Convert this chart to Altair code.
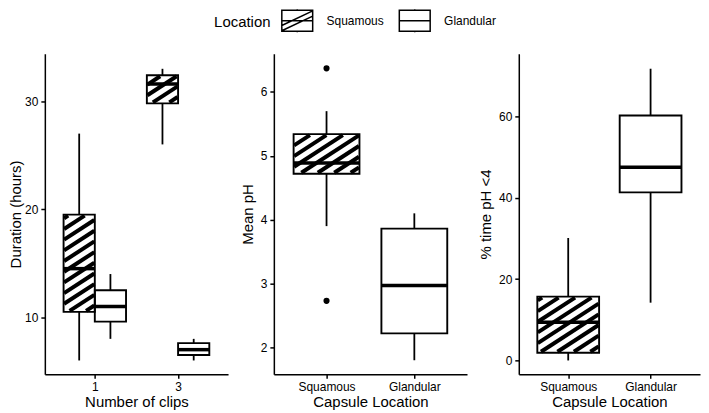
import json
import math
import altair as alt
import pandas as pd

LOCATIONS = ["Squamous", "Glandular"]

# ---- Panel 1: Duration (hours) by number of clips ----
p1_levels = ["1", "3"]
p1_groups = ["1", "1", "3", "3"]
p1_locs = ["Squamous", "Glandular", "Squamous", "Glandular"]
p1_lo = [6.0, 8.0, 26.0, 6.0]
p1_q1 = [10.5, 9.6, 29.8, 6.5]
p1_med = [14.5, 11.0, 31.6, 7.0]
p1_q3 = [19.5, 12.5, 32.4, 7.6]
p1_hi = [27.0, 14.0, 33.0, 8.0]
p1_ticks = [10, 20, 30]

# ---- Panel 2: Mean pH by capsule location ----
p2_levels = ["Squamous", "Glandular"]
p2_groups = ["Squamous", "Glandular"]
p2_locs = ["Squamous", "Glandular"]
p2_lo = [3.9, 1.8]
p2_q1 = [4.72, 2.22]
p2_med = [4.89, 2.97]
p2_q3 = [5.34, 3.86]
p2_hi = [5.7, 4.1]
p2_out_groups = ["Squamous", "Squamous"]
p2_out_vals = [6.37, 2.73]
p2_ticks = [2, 3, 4, 5, 6]

# ---- Panel 3: % time pH < 4 by capsule location ----
p3_levels = ["Squamous", "Glandular"]
p3_groups = ["Squamous", "Glandular"]
p3_locs = ["Squamous", "Glandular"]
p3_lo = [0.0, 14.2]
p3_q1 = [1.9, 41.3]
p3_med = [9.4, 47.5]
p3_q3 = [15.7, 60.2]
p3_hi = [30.1, 71.7]
p3_ticks = [0, 20, 40, 60]

FONT = "Liberation Sans"
XMIN, XMAX = 0.4, 2.6
ANGLE = math.radians(33)
SPACING = 9.0
STRIPE_W = 4

# legend key: 31 x 21 px box drawn with a symbol of nominal size 21 px
SYM_BOX = "M-1.476,-1H1.476V1H-1.476Z M-1.476,0H1.476 M0,-1V-1.1 M0,1V1.1"
SYM_SQ = SYM_BOX + " M-1.476,0.95L1.476,-0.45 M-1.476,0.45L1.476,-0.95"
SYM_GL = SYM_BOX


def hatch_rows(box, width, height, ydom):
    sx = width / (XMAX - XMIN)
    sy = height / (ydom[1] - ydom[0])
    dx, dy = math.cos(ANGLE), math.sin(ANGLE)
    nx, ny = -dy, dx
    rows = []
    for _, r in box.iterrows():
        if r["loc"] != LOCATIONS[0]:
            continue
        X0 = (r["left"] - XMIN) * sx + 0.5
        X1 = (r["right"] - XMIN) * sx - 0.5
        Y0 = (r["q1"] - ydom[0]) * sy + 1.0
        Y1 = (r["q3"] - ydom[0]) * sy - 1.0
        cs = [nx * X + ny * Y for X in (X0, X1) for Y in (Y0, Y1)]
        c = min(cs) + SPACING / 2
        while c < max(cs):
            t_lo = max((X0 - c * nx) / dx, (Y0 - c * ny) / dy)
            t_hi = min((X1 - c * nx) / dx, (Y1 - c * ny) / dy)
            if t_hi > t_lo:
                ax, ay = c * nx + t_lo * dx, c * ny + t_lo * dy
                bx, by = c * nx + t_hi * dx, c * ny + t_hi * dy
                rows.append(dict(hx=ax / sx + XMIN, hx2=bx / sx + XMIN,
                                 hy=ay / sy + ydom[0], hy2=by / sy + ydom[0]))
            c += SPACING
    return pd.DataFrame(rows)


def panel(levels, groups, locs, lo, q1, med, q3, hi, dodge, ydom, yticks,
          ytitle, xtitle, width, height, title_pad,
          out_groups=None, out_vals=None, legend=False):
    half = 0.1875 if dodge else 0.375
    rows = []
    for g, l, a, b, m, c, d in zip(groups, locs, lo, q1, med, q3, hi):
        pos = levels.index(g) + 1
        if dodge:
            pos += -half if l == LOCATIONS[0] else half
        rows.append(dict(group=g, loc=l, pos=pos, left=pos - half,
                         right=pos + half, lo=a, q1=b, med=m, q3=c, hi=d))
    box = pd.DataFrame(rows)
    xs = alt.Scale(domain=[XMIN, XMAX], nice=False, zero=False)
    ys = alt.Scale(domain=ydom, nice=False, zero=False)
    xaxis = alt.Axis(values=[i + 1 for i in range(len(levels))],
                     labelExpr=f"{json.dumps(levels)}[datum.value - 1]",
                     title=xtitle, tickSize=4, labelPadding=3, titlePadding=2)
    yaxis = alt.Axis(values=yticks, title=ytitle, tickSize=4, labelPadding=3,
                     titlePadding=title_pad)
    base = alt.Chart(box)
    layers = [
        base.mark_rule(color="black", strokeWidth=1.8).encode(
            x=alt.X("pos:Q", scale=xs, axis=xaxis),
            y=alt.Y("lo:Q", scale=ys, axis=yaxis), y2="q1:Q"),
        base.mark_rule(color="black", strokeWidth=1.8).encode(
            x=alt.X("pos:Q", scale=xs, axis=xaxis),
            y=alt.Y("q3:Q", scale=ys, axis=yaxis), y2="hi:Q"),
        base.mark_rect(fill="white").encode(
            x=alt.X("left:Q", scale=xs, axis=xaxis), x2="right:Q",
            y=alt.Y("q1:Q", scale=ys, axis=yaxis), y2="q3:Q"),
        alt.Chart(hatch_rows(box, width, height, ydom)).mark_rule(
            color="black", strokeWidth=STRIPE_W, strokeCap="butt").encode(
            x=alt.X("hx:Q", scale=xs, axis=xaxis), x2="hx2:Q",
            y=alt.Y("hy:Q", scale=ys, axis=yaxis), y2="hy2:Q"),
        base.mark_rect(fillOpacity=0, stroke="black", strokeWidth=1.9).encode(
            x=alt.X("left:Q", scale=xs, axis=xaxis), x2="right:Q",
            y=alt.Y("q1:Q", scale=ys, axis=yaxis), y2="q3:Q"),
        base.mark_rule(color="black", strokeWidth=3.5).encode(
            x=alt.X("left:Q", scale=xs, axis=xaxis), x2="right:Q",
            y=alt.Y("med:Q", scale=ys, axis=yaxis)),
    ]
    if out_vals:
        out = pd.DataFrame({"pos": [levels.index(g) + 1 for g in out_groups],
                            "val": out_vals})
        layers.append(alt.Chart(out).mark_circle(color="black", size=38, opacity=1).encode(
            x=alt.X("pos:Q", scale=xs, axis=xaxis),
            y=alt.Y("val:Q", scale=ys, axis=yaxis)))
    if legend:
        leg = pd.DataFrame({"loc": LOCATIONS, "pos": [1, 1],
                            "val": [ydom[0] - 1000, ydom[0] - 1000]})
        layers.append(alt.Chart(leg).mark_point(
            clip=True, filled=False, color="black", size=441, strokeWidth=1.5,
            opacity=1).encode(
            x=alt.X("pos:Q", scale=xs, axis=xaxis),
            y=alt.Y("val:Q", scale=ys, axis=yaxis),
            shape=alt.Shape("loc:N",
                            scale=alt.Scale(domain=LOCATIONS, range=[SYM_SQ, SYM_GL]),
                            legend=alt.Legend(
                                title="Location", orient="none", legendX=170,
                                legendY=-45, direction="horizontal",
                                titleOrient="left", titleAnchor="middle",
                                titleBaseline="middle", titlePadding=15,
                                titleFont=FONT, titleFontSize=15,
                                titleFontWeight="normal", titleColor="black",
                                labelFont=FONT, labelFontSize=12, labelColor="black",
                                labelOffset=18, columnPadding=12, padding=0,
                                symbolSize=441, symbolStrokeWidth=1.5,
                                symbolStrokeColor="black", symbolFillColor="white",
                                symbolOpacity=1))))
    return alt.layer(*layers).properties(width=width, height=height)


H = 322
c1 = panel(p1_levels, p1_groups, p1_locs, p1_lo, p1_q1, p1_med, p1_q3, p1_hi,
           True, [4.72, 34.4], p1_ticks, "Duration (hours)", "Number of clips",
           184, H, 1, legend=True)
c2 = panel(p2_levels, p2_groups, p2_locs, p2_lo, p2_q1, p2_med, p2_q3, p2_hi,
           False, [1.58, 6.6], p2_ticks, "Mean pH", "Capsule Location",
           194, H, 5, out_groups=p2_out_groups, out_vals=p2_out_vals)
c3 = panel(p3_levels, p3_groups, p3_locs, p3_lo, p3_q1, p3_med, p3_q3, p3_hi,
           False, [-3.4, 75.4], p3_ticks, "% time pH <4", "Capsule Location",
           182, H, 5)

chart = (
    alt.hconcat(c1, c2, c3, spacing=10)
    .resolve_legend(shape="shared")
    .properties(padding=0)
    .configure_view(stroke="transparent")
    .configure_axis(
        grid=False, domainColor="black", domainWidth=1.5, tickColor="black",
        tickWidth=1.5, labelFont=FONT, labelFontSize=12, labelColor="black",
        titleFont=FONT, titleFontSize=15, titleFontWeight="normal",
        titleColor="black")
)

chart.save("out.html", embed_options={"renderer": "svg", "actions": False})
